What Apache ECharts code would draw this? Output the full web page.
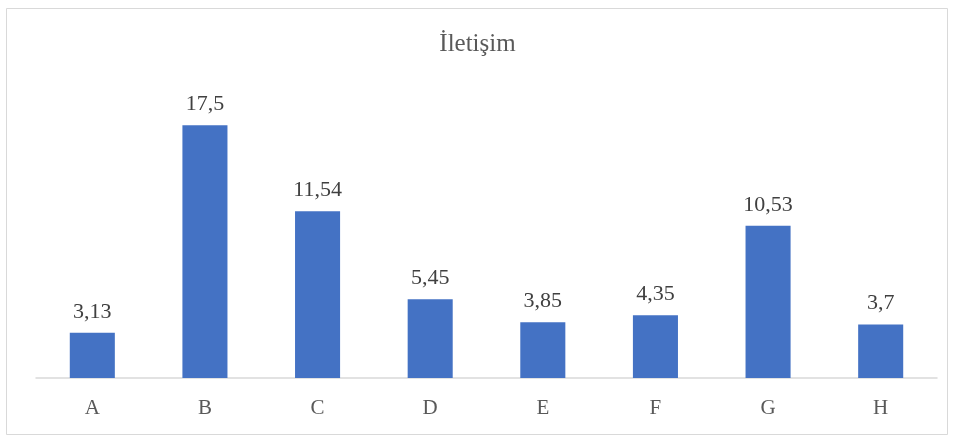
<!DOCTYPE html>
<html>
<head>
<meta charset="utf-8">
<script src="https://cdn.jsdelivr.net/npm/echarts@6/dist/echarts.min.js"></script>
<style>
  html, body { margin: 0; padding: 0; background: #ffffff; }
  #chart { width: 955px; height: 439px; }
</style>
</head>
<body>
<div id="chart"></div>
<script>
// Communication scores per group
const categories = ['A', 'B', 'C', 'D', 'E', 'F', 'G', 'H'];
const values = [3.13, 17.5, 11.54, 5.45, 3.85, 4.35, 10.53, 3.7];
const chartTitle = 'İletişim';

const fontFamily = '"Liberation Serif", "DejaVu Serif", serif';
const chart = echarts.init(document.getElementById('chart'), null, { renderer: 'canvas' });

chart.setOption({
  backgroundColor: '#ffffff',
  animation: false,
  title: {
    text: chartTitle,
    left: 'center',
    top: 27,
    textStyle: { fontFamily: fontFamily, fontSize: 25, fontWeight: 'normal', color: '#595959' }
  },
  graphic: [{
    type: 'rect',
    shape: { x: 6.5, y: 8.5, width: 941, height: 426 },
    style: { fill: 'none', stroke: '#d9d9d9', lineWidth: 1 },
    silent: true
  }],
  grid: { left: 36, right: 18, top: 89, bottom: 61 },
  xAxis: {
    type: 'category',
    data: categories,
    axisLine: { show: true, lineStyle: { color: '#d9d9d9', width: 1.5 } },
    axisTick: { show: false },
    axisLabel: { fontFamily: fontFamily, fontSize: 21, color: '#595959', margin: 20 }
  },
  yAxis: {
    type: 'value',
    min: 0,
    max: 20,
    show: false,
    splitLine: { show: false }
  },
  series: [{
    type: 'bar',
    data: values,
    barWidth: '40%',
    itemStyle: { color: '#4472c4' },
    label: {
      show: true,
      position: 'top',
      distance: 10,
      fontFamily: fontFamily,
      fontSize: 22,
      color: '#404040',
      formatter: p => String(p.value).replace('.', ',')
    }
  }]
});
</script>
</body>
</html>
